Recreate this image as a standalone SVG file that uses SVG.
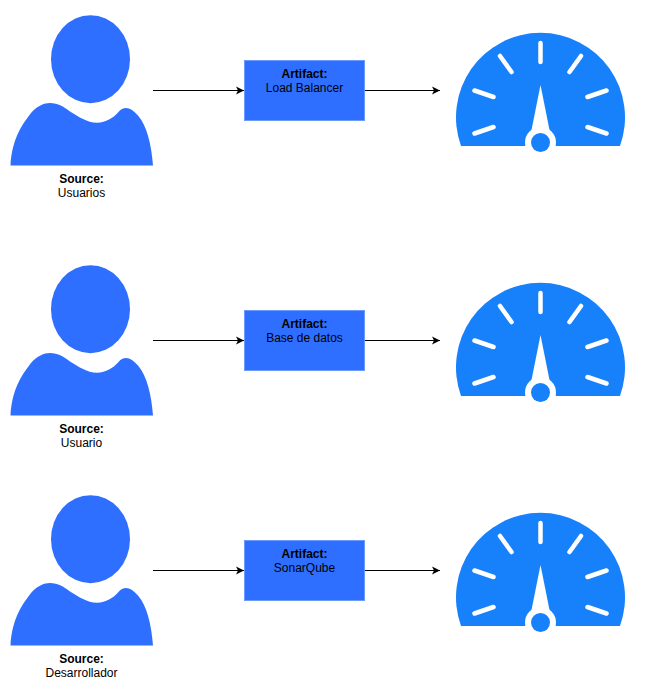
<svg xmlns="http://www.w3.org/2000/svg" width="651" height="692" viewBox="0 0 651 692">
<style>
text{font-family:"Liberation Sans",Arial,sans-serif;font-size:12px;text-anchor:middle;fill:#000}
.b{font-weight:bold}
.box{fill:#2f6fff;stroke:#6c9bff;stroke-width:1}
.person{fill:#2f6fff}
.dial{fill:#1780fb}
.tick{stroke:#fff;stroke-width:4.500;stroke-linecap:round;fill:none}
.wire{fill:none;stroke:#000;stroke-width:1}
</style>
<defs>
<marker id="arrow" markerUnits="userSpaceOnUse" markerWidth="10" markerHeight="10" refX="8" refY="4.500" orient="auto"><path d="M0 0.500L8 4.500L0 8.500L2 4.500Z" fill="#000"/></marker>
<g id="personShape"><ellipse class="person" cx="90.500" cy="59.200" rx="39.500" ry="44"/><path class="person" d="M10.500 165.500C12 140 21 126 31 113C37 106 44 103 50 103C58 103 64 107 70 111.500C79 117 87 122.500 97 122.700C106 122.500 113 118 118 112.500C121 109 123 108 126 108C130 108 134 111 138 115.500C147 126 151.500 145 153 165.500Z"/></g>
<g id="gaugeShape"><path class="dial" d="M461 146A84.500 84.500 0 1 1 620 146Z"/>
<circle cx="540.500" cy="142.500" r="15.500" fill="#fff"/><path d="M540.500 85L549.500 130H531.500Z" fill="#fff"/><rect x="520" y="146" width="41" height="14" fill="#fff"/>
<circle class="dial" cx="540.500" cy="142.500" r="9.500"/>
<path class="tick" d="M540.500 43V62M500 56L511.500 72M581 56L569.500 72M474.500 90.500L493.500 97M606.500 90.500L587.500 97M474.500 133.500L493.500 127M606.500 133.500L587.500 127"/></g>
</defs>
<g id="connectors">
<path class="wire" marker-end="url(#arrow)" d="M153 90.500H244"/><path class="wire" marker-end="url(#arrow)" d="M364.500 90.500H440"/>
<path class="wire" marker-end="url(#arrow)" d="M153 340.500H244"/><path class="wire" marker-end="url(#arrow)" d="M364.500 340.500H440"/>
<path class="wire" marker-end="url(#arrow)" d="M153 570.500H244"/><path class="wire" marker-end="url(#arrow)" d="M364.500 570.500H440"/>
</g>
<g id="source1"><use href="#personShape"/><text class="b" x="81.500" y="183">Source:</text><text x="81.500" y="197">Usuarios</text></g>
<g id="artifact1"><rect class="box" x="244.500" y="60.500" width="120" height="60"/><text class="b" x="304.500" y="78">Artifact:</text><text x="304.500" y="92">Load Balancer</text></g>
<g id="gauge1"><use href="#gaugeShape"/></g>
<g id="source2"><use href="#personShape" y="250"/><text class="b" x="81.500" y="433">Source:</text><text x="81.500" y="447">Usuario</text></g>
<g id="artifact2"><rect class="box" x="244.500" y="310.500" width="120" height="60"/><text class="b" x="304.500" y="328">Artifact:</text><text x="304.500" y="342">Base de datos</text></g>
<g id="gauge2"><use href="#gaugeShape" y="250"/></g>
<g id="source3"><use href="#personShape" y="480"/><text class="b" x="81.500" y="663">Source:</text><text x="81.500" y="677">Desarrollador</text></g>
<g id="artifact3"><rect class="box" x="244.500" y="540.500" width="120" height="60"/><text class="b" x="304.500" y="558">Artifact:</text><text x="304.500" y="572">SonarQube</text></g>
<g id="gauge3"><use href="#gaugeShape" y="480"/></g>
</svg>
